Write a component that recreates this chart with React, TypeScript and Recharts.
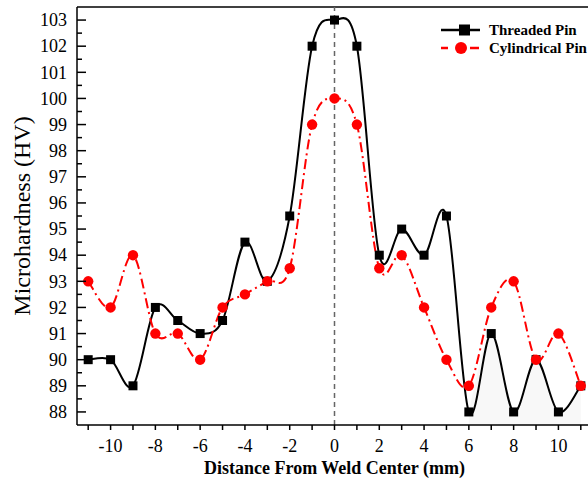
import { ComposedChart, Line, Area, XAxis, YAxis, ReferenceLine, Label } from 'recharts';

// distance from weld center (mm)
const distance = [-11, -10, -9, -8, -7, -6, -5, -4, -3, -2, -1, 0, 1, 2, 3, 4, 5, 6, 7, 8, 9, 10, 11];
const threaded = [90, 90, 89, 92, 91.5, 91, 91.5, 94.5, 93, 95.5, 102, 103, 102, 94, 95, 94, 95.5, 88, 91, 88, 90, 88, 89];
const cylindrical = [93, 92, 94, 91, 91, 90, 92, 92.5, 93, 93.5, 99, 100, 99, 93.5, 94, 92, 90, 89, 92, 93, 90, 91, 89];

const xTicks = distance;
const yTicks = [88, 88.5, 89, 89.5, 90, 90.5, 91, 91.5, 92, 92.5, 93, 93.5, 94, 94.5, 95, 95.5, 96, 96.5, 97, 97.5, 98, 98.5, 99, 99.5, 100, 100.5, 101, 101.5, 102, 102.5, 103];

const data = distance.map((d, i) => ({
  d,
  threaded: threaded[i],
  cylindrical: cylindrical[i],
  shade: d >= 6 ? threaded[i] : null,
}));

const FONT = '"Liberation Serif", "Times New Roman", serif';
const TICK_MARGIN = 10;

// Catmull-Rom style spline, passes through every point (like Origin's spline)
const spline = (context: any) => {
  let pts: number[][] = [];
  let line: number = NaN;
  const draw = () => {
    const n = pts.length;
    if (!n) return;
    if (line) context.lineTo(pts[0][0], pts[0][1]);
    else context.moveTo(pts[0][0], pts[0][1]);
    for (let i = 0; i < n - 1; i++) {
      const p0 = pts[Math.max(i - 1, 0)];
      const p1 = pts[i];
      const p2 = pts[i + 1];
      const p3 = pts[Math.min(i + 2, n - 1)];
      const k = 1 / 6;
      context.bezierCurveTo(
        p1[0] + (p2[0] - p0[0]) * k,
        p1[1] + (p2[1] - p0[1]) * k,
        p2[0] - (p3[0] - p1[0]) * k,
        p2[1] - (p3[1] - p1[1]) * k,
        p2[0],
        p2[1]
      );
    }
  };
  return {
    areaStart() { line = 0; },
    areaEnd() { line = NaN; },
    lineStart() { pts = []; },
    lineEnd() {
      draw();
      if (line || (line !== 0 && pts.length === 1)) context.closePath();
      line = 1 - line;
    },
    point(x: number, y: number) { pts.push([+x, +y]); },
  };
};

const YTick = (props: any) => {
  const { x, y, payload } = props;
  const v = payload.value;
  const major = Number.isInteger(v);
  const ax = x + TICK_MARGIN;
  return (
    <g>
      <line x1={ax} x2={ax + (major ? 9 : 5)} y1={y} y2={y} stroke="#000" strokeWidth={1.5} />
      {major && (
        <text x={x} y={y} dy="0.35em" textAnchor="end" fontSize={18} fontFamily={FONT} fill="#000">
          {v}
        </text>
      )}
    </g>
  );
};

const XTick = (props: any) => {
  const { x, y, payload } = props;
  const v = payload.value;
  if (v % 2 !== 0) return null;
  return (
    <text x={x} y={y} dy="0.75em" textAnchor="middle" fontSize={18} fontFamily={FONT} fill="#000">
      {v}
    </text>
  );
};

const SquareDot = (props: any) => {
  const { cx, cy, index } = props;
  return <rect key={'s' + index} x={cx - 4.5} y={cy - 4.5} width={9} height={9} fill="#000" />;
};

const CircleDot = (props: any) => {
  const { cx, cy, index } = props;
  return <circle key={'c' + index} cx={cx} cy={cy} r={5.2} fill="#ff0000" />;
};

const ChartLegend = () => (
  <div
    style={{
      position: 'absolute',
      top: 21,
      left: 440,
      width: 170,
      fontFamily: FONT,
      fontWeight: 'bold',
      fontSize: 15,
      lineHeight: '18px',
    }}
  >
    <div style={{ display: 'flex', alignItems: 'center', height: 18 }}>
      <svg width={49} height={18}>
        <line x1={1} x2={11} y1={9} y2={9} stroke="#000" strokeWidth={2.5} />
        <rect x={19} y={3.5} width={11} height={11} fill="#000" />
        <line x1={30} x2={40} y1={9} y2={9} stroke="#000" strokeWidth={2.5} />
        <line x1={11} x2={19} y1={9} y2={9} stroke="#000" strokeWidth={2.5} />
      </svg>
      <span>Threaded Pin</span>
    </div>
    <div style={{ display: 'flex', alignItems: 'center', height: 18 }}>
      <svg width={49} height={18}>
        <line x1={1} x2={8} y1={9} y2={9} stroke="#ff0000" strokeWidth={2.5} />
        <circle cx={21} cy={9} r={6} fill="#ff0000" />
        <line x1={30} x2={39} y1={9} y2={9} stroke="#ff0000" strokeWidth={2.5} />
      </svg>
      <span style={{ whiteSpace: 'nowrap' }}>Cylindrical Pin</span>
    </div>
  </div>
);

export default function App() {
  return (
    <div style={{ position: 'absolute', left: 0, top: 0, width: 588, height: 482, overflow: 'hidden', background: '#fff' }}>
      <ComposedChart width={600} height={482} data={data} margin={{ top: 7, right: 8, left: 0, bottom: 0 }}>
        <XAxis
          dataKey="d"
          type="number"
          domain={[-11.5, 11.5]}
          ticks={xTicks}
          interval={0}
          tick={<XTick />}
          tickSize={5}
          tickMargin={8}
          tickLine={{ stroke: '#000', strokeWidth: 1.5 }}
          axisLine={{ stroke: '#000', strokeWidth: 1.5 }}
          height={57}
        >
          <Label
            value="Distance From Weld Center (mm)"
            position="insideBottom"
            offset={8}
            style={{ fontFamily: FONT, fontWeight: 'bold', fontSize: 18, fill: '#000' }}
          />
        </XAxis>
        <YAxis
          type="number"
          domain={[87.5, 103.5]}
          ticks={yTicks}
          interval={0}
          tick={<YTick />}
          tickSize={0}
          tickMargin={TICK_MARGIN}
          tickLine={false}
          axisLine={{ stroke: '#000', strokeWidth: 1.5 }}
          width={77}
        >
          <Label
            content={(p: any) => {
              const vb = p.viewBox;
              const cx = vb.x + 22;
              const cy = vb.y + vb.height / 2;
              return (
                <text
                  x={cx}
                  y={cy}
                  transform={`rotate(-90 ${cx} ${cy})`}
                  textAnchor="middle"
                  dominantBaseline="central"
                  fontFamily={FONT}
                  fontSize={24}
                  fill="#000"
                >
                  Microhardness (HV)
                </text>
              );
            }}
          />
        </YAxis>
        <ReferenceLine y={103.5} stroke="#000" strokeWidth={1.5} />
        <ReferenceLine x={0} stroke="#666" strokeWidth={1.5} strokeDasharray="5 4" />
        <Area
          dataKey="shade"
          type={spline as any}
          stroke="none"
          fill="#f8f8f8"
          fillOpacity={1}
          isAnimationActive={false}
          connectNulls={false}
          legendType="none"
        />
        <Line
          dataKey="threaded"
          type={spline as any}
          stroke="#000"
          strokeWidth={2}
          dot={<SquareDot />}
          activeDot={false}
          isAnimationActive={false}
        />
        <Line
          dataKey="cylindrical"
          type={spline as any}
          stroke="#ff0000"
          strokeWidth={2}
          strokeDasharray="10 4 2 4"
          dot={<CircleDot />}
          activeDot={false}
          isAnimationActive={false}
        />
      </ComposedChart>
      <ChartLegend />
    </div>
  );
}
